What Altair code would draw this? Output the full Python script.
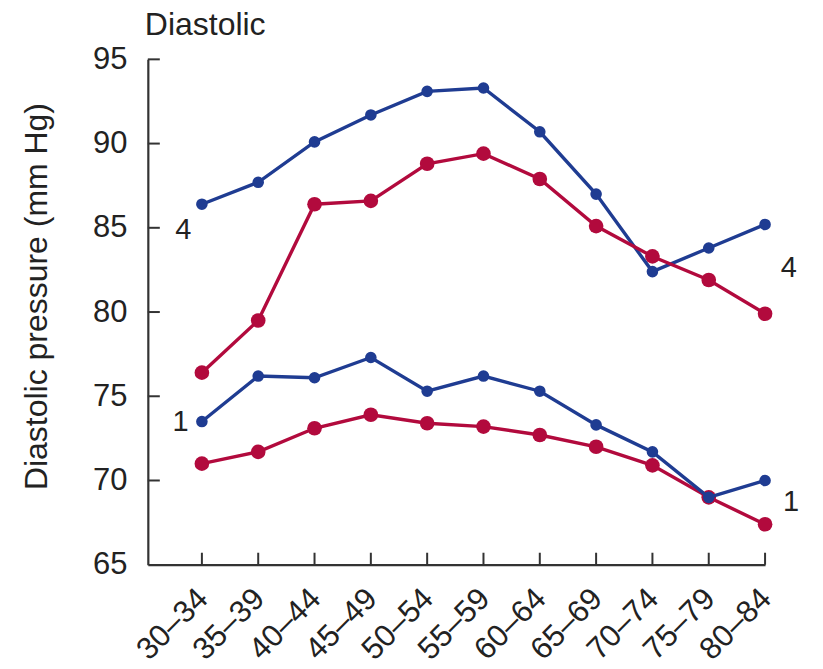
import json
import altair as alt
import pandas as pd

ages = ["30–34", "35–39", "40–44", "45–49", "50–54", "55–59",
        "60–64", "65–69", "70–74", "75–79", "80–84"]
blue4 = [86.4, 87.7, 90.1, 91.7, 93.1, 93.3, 90.7, 87.0, 82.4, 83.8, 85.2]
red4 = [76.4, 79.5, 86.4, 86.6, 88.8, 89.4, 87.9, 85.1, 83.3, 81.9, 79.9]
blue1 = [73.5, 76.2, 76.1, 77.3, 75.3, 76.2, 75.3, 73.3, 71.7, 69.0, 70.0]
red1 = [71.0, 71.7, 73.1, 73.9, 73.4, 73.2, 72.7, 72.0, 70.9, 69.0, 67.4]

y_ticks = [65, 70, 75, 80, 85, 90, 95]

note_text = ["4", "1", "4", "1"]
note_x = [-0.33, -0.38, 10.42, 10.46]
note_y = [84.85, 73.45, 82.6, 68.7]

BLUE = "#1f3c92"
RED = "#b20a3d"
INK = "#222222"
FONT = "Liberation Sans"
W, H = 618, 506

xscale = alt.Scale(domain=[-0.96, 10], nice=False, zero=False)
yscale = alt.Scale(domain=[65, 95], nice=False, zero=False)

label_expr = json.dumps(ages, ensure_ascii=False) + "[datum.value]"

x_axis = alt.Axis(values=list(range(len(ages))), labelExpr=label_expr, title=None,
                  tickSize=0, labelAngle=-45, labelAlign="right", labelBaseline="middle",
                  labelPadding=29, labelOffset=1, grid=False, labelFontSize=31,
                  labelOverlap=False, labelBound=False,
                  labelFont=FONT, labelColor=INK, domainColor="#333333", domainWidth=2.2)
y_axis = alt.Axis(values=y_ticks, title="Diastolic pressure (mm Hg)", tickSize=0,
                  labelPadding=21, grid=False, labelFontSize=31, labelFont=FONT,
                  labelOverlap=False,
                  labelColor=INK, titleFontSize=32, titleFont=FONT, titleColor=INK,
                  titleFontWeight="normal", titleX=-94, titleY=237,
                  domainColor="#333333", domainWidth=2.2)


def X(field):
    return alt.X(field, scale=xscale, axis=x_axis, title=None)


def Y(field):
    return alt.Y(field, scale=yscale, axis=y_axis, title="Diastolic pressure (mm Hg)")


def series(vals, color, size):
    df = pd.DataFrame({"idx": list(range(len(ages))), "value": vals})
    base = alt.Chart(df).encode(x=X("idx:Q"), y=Y("value:Q"))
    line = base.mark_line(color=color, strokeWidth=3.4)
    pts = base.mark_point(filled=True, color=color, size=size, opacity=1)
    return line + pts


ytick_df = pd.DataFrame({"v": y_ticks[1:]})
yticks = alt.Chart(ytick_df).mark_rule(color="#333333", strokeWidth=2).encode(
    y=Y("v:Q"), x=alt.value(0), x2=alt.value(12),
)
xtick_df = pd.DataFrame({"i": list(range(len(ages)))})
xticks = alt.Chart(xtick_df).mark_rule(color="#333333", strokeWidth=2).encode(
    x=X("i:Q"), y=alt.value(H), y2=alt.value(H - 12),
)

notes_df = pd.DataFrame({"t": note_text, "x": note_x, "y": note_y})
notes = alt.Chart(notes_df).mark_text(font=FONT, fontSize=29, color=INK,
                                      align="center", baseline="middle").encode(
    x=X("x:Q"), y=Y("y:Q"), text="t:N",
)

chart = alt.layer(
    yticks, xticks,
    series(blue4, BLUE, 135),
    series(red4, RED, 215),
    series(red1, RED, 215),
    series(blue1, BLUE, 135),
    notes,
).properties(
    width=W, height=H,
    title=alt.TitleParams("Diastolic", anchor="start", frame="group", dx=-3,
                          offset=1, font=FONT, fontSize=32, fontWeight="normal",
                          color=INK),
    autosize=alt.AutoSizeParams(type="none"),
    padding={"left": 140, "top": 51, "right": 50, "bottom": 104},
).configure_view(stroke=None)

chart.save("out.html", embed_options={"renderer": "svg", "actions": False})
